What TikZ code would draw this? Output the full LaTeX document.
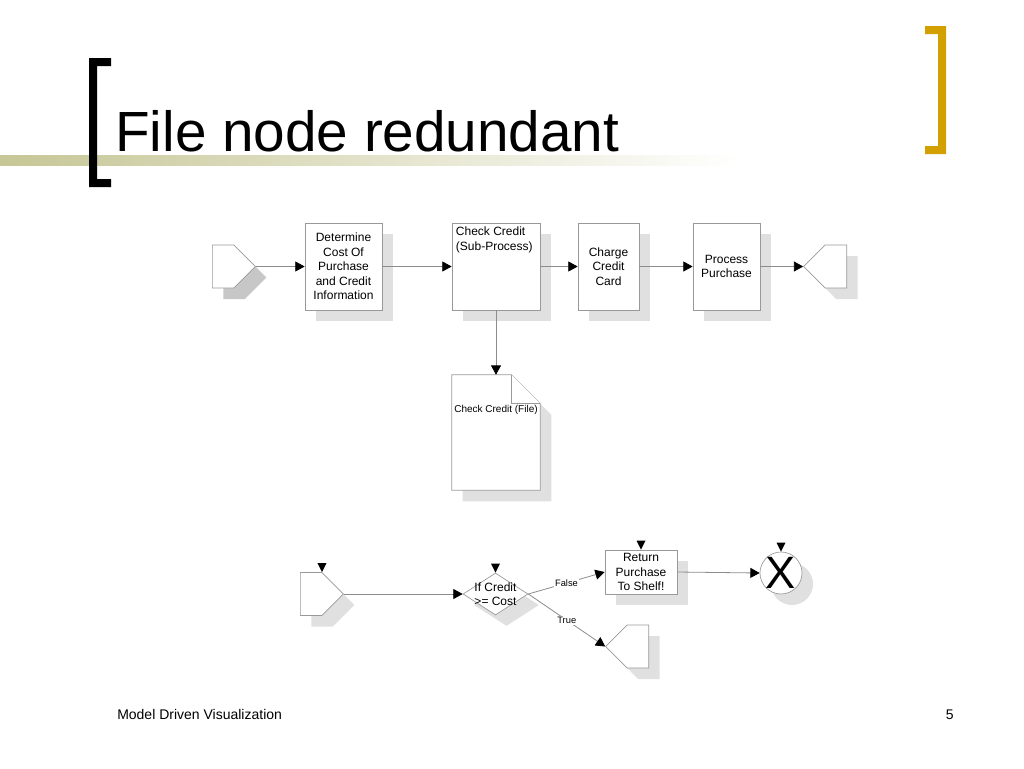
\documentclass[tikz,border=0pt]{standalone}
\usepackage{fontspec}
\setmainfont{Liberation Sans}
\usetikzlibrary{arrows.meta,shapes.geometric,shapes.symbols,shadows,calc}
\definecolor{band}{RGB}{198,198,150}
\definecolor{gold}{RGB}{210,160,0}
\begin{document}
\begin{tikzpicture}[x=0.75pt,y=-0.75pt,font=\fontsize{9}{10.9}\selectfont,
  box/.style={draw=black!40,fill=white,line width=0.5pt,inner sep=1pt,align=center},
  sh/.style={general shadow={fill=#1,shadow xshift=8.25pt,shadow yshift=-8.25pt}},
  sh/.default=black!12,
  task/.style={box,sh},
  event/.style={box,signal,signal pointer angle=90,minimum width=32.25pt,minimum height=32.25pt},
  flow/.style={draw=black!45,line width=0.6pt,-{Triangle[length=7pt,width=7.5pt,color=black]}},
  cond/.style={font=\fontsize{7}{8}\selectfont,fill=white,inner sep=1pt}]
\useasboundingbox (0,0) rectangle (1024,768);

% title
\shade[left color=band,middle color=band!80,right color=white] (0,155) rectangle (740,165);
\fill (89,58) -- (111,58) -- (111,66) -- (97,66) -- (97,179) -- (111,179) -- (111,187) -- (89,187) -- cycle;
\fill[gold] (946,26) -- (925,26) -- (925,34) -- (938,34) -- (938,146) -- (925,146) -- (925,154) -- (946,154) -- cycle;
\node[anchor=base west,inner sep=0pt,font=\fontsize{42.5}{42.5}\selectfont] (title) at (115,151) {File node redundant};
\node[anchor=base west,inner sep=0pt,font=\fontsize{10.5}{12}\selectfont] (foot) at (117,719) {Model Driven Visualization};
\node[anchor=base east,inner sep=0pt,font=\fontsize{10.5}{12}\selectfont] (page) at (954,719) {5};

% upper process
\node[event,signal to=east,sh=black!22,anchor=west] (st1) at (212,266.5) {};
\node[task,minimum width=57.75pt,minimum height=65.25pt] (b1) at (343.5,266.5) {Determine\\Cost Of\\Purchase\\and Credit\\Information};
\node[task,minimum width=66pt,minimum height=65.25pt,
  label={[anchor=north west,inner sep=3pt,align=left]north west:Check Credit\\(Sub-Process)}] (b2) at (496,266.5) {};
\node[task,minimum width=45.75pt,minimum height=65.25pt] (b3) at (608.5,266.5) {Charge\\Credit\\Card};
\node[task,minimum width=50.25pt,minimum height=65.25pt] (b4) at (726.5,266.5) {Process\\Purchase};
\node[event,signal to=west,sh,anchor=east] (en1) at (847,266.5) {};

\draw[flow] (st1.east) -- (b1.west);
\draw[flow] (b1.east) -- (b2.west);
\draw[flow] (b2.east) -- (b3.west);
\draw[flow] (b3.east) -- (b4.west);
\draw[flow] (b4.east) -- (en1.west);

% file
\node[minimum width=66pt,minimum height=86.25pt] (file) at (496,432.5) {};
\draw[task] (file.north west) -- ([xshift=-21.75pt]file.north east) -- ([yshift=-21.75pt]file.north east)
  -- (file.south east) -- (file.south west) -- cycle;
\draw[box] ([xshift=-21.75pt]file.north east) |- ([yshift=-21.75pt]file.north east);
\node[font=\fontsize{7.5}{9}\selectfont,inner sep=0pt] (filetxt) at ([yshift=-26.25pt]file.north) {Check Credit (File)};
\draw[flow] (b2.south) -- (file.north);

% lower process
\node[event,signal to=east,sh,anchor=west] (st2) at (300,594) {};
\node[task,diamond,minimum width=48.75pt,minimum height=31.5pt,inner sep=0pt,
  label={[align=center]center:If Credit\\>= Cost}] (dec) at (495.5,594) {};
\node[task,minimum width=54pt,minimum height=33pt] (ret) at (641,572) {Return\\Purchase\\To Shelf!};
\node[event,signal to=west,sh,anchor=east] (en2) at (649,646.5) {};
\node[task,circle,minimum size=31.5pt,inner sep=0pt,
  label={[font=\fontsize{34}{34}\selectfont,inner sep=0pt]center:X}] (xend) at (781,573) {};

\draw[flow] (st2.east) -- (dec.west);
\draw[flow] (dec.east) -- node[cond] {False} (ret.west);
\draw[flow] (dec.east) -- node[cond] {True} (en2.west);
\draw[flow] (ret.east) -- (xend.west);

\foreach \n in {st2.north east,dec.north,ret.north,xend.north}
  \fill ($(\n)+(-4.5,-9)$) -- ($(\n)+(4.5,-9)$) -- (\n) -- cycle;

\end{tikzpicture}
\end{document}
